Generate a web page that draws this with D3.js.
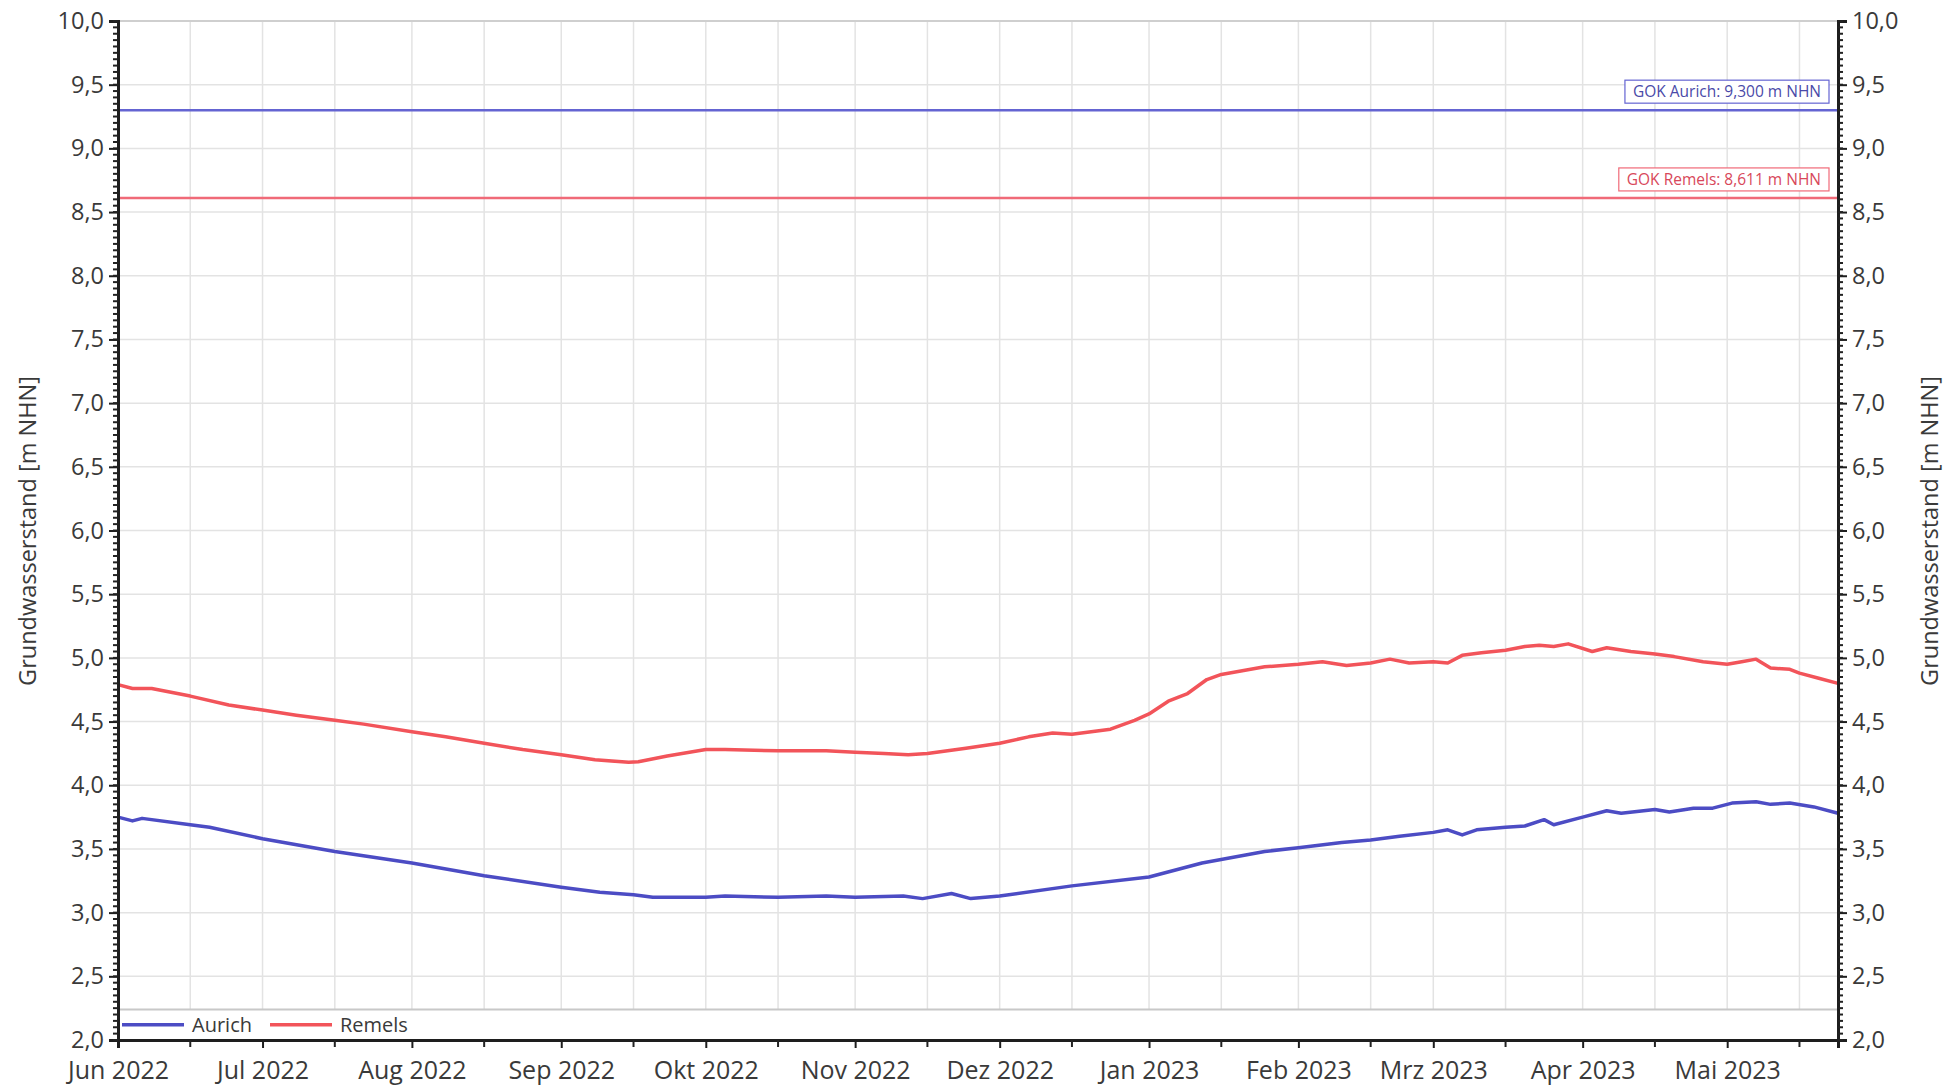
<!DOCTYPE html>
<html>
<head>
<meta charset="UTF-8">
<title>Grundwasserstand Aurich / Remels</title>
<style>
  body { margin: 0; background: #fff; }
  svg text { font-family: "Open Sans", sans-serif; fill: #3a3a3a; }
  .grid line { stroke: #e3e3e3; stroke-width: 1.5; }
</style>
</head>
<body>
<svg width="1946" height="1086"></svg>
<script src="https://d3js.org/d3.v7.min.js"></script>
<script>

var aurichDates = ["2022-06-01","2022-06-04","2022-06-06","2022-06-16","2022-06-20","2022-07-01","2022-07-16",
    "2022-08-01","2022-08-16","2022-09-01","2022-09-09","2022-09-16","2022-09-20","2022-10-01","2022-10-05",
    "2022-10-16","2022-10-26","2022-11-01","2022-11-11","2022-11-15","2022-11-21","2022-11-25","2022-12-01",
    "2022-12-16","2023-01-01","2023-01-12","2023-01-25","2023-02-01","2023-02-10","2023-02-16","2023-02-22",
    "2023-03-01","2023-03-04","2023-03-07","2023-03-10","2023-03-16","2023-03-20","2023-03-24","2023-03-26",
    "2023-04-01","2023-04-06","2023-04-09","2023-04-16","2023-04-19","2023-04-24","2023-04-28","2023-05-02",
    "2023-05-07","2023-05-10","2023-05-14","2023-05-19","2023-05-24"];
var aurichValues = [3.75,3.72,3.74,3.69,3.67,3.58,3.48,
    3.39,3.29,3.20,3.16,3.14,3.12,3.12,3.13,
    3.12,3.13,3.12,3.13,3.11,3.15,3.11,3.13,
    3.21,3.28,3.39,3.48,3.51,3.55,3.57,3.60,
    3.63,3.65,3.61,3.65,3.67,3.68,3.73,3.69,
    3.75,3.80,3.78,3.81,3.79,3.82,3.82,3.86,
    3.87,3.85,3.86,3.83,3.78];

var remelsDates = ["2022-06-01","2022-06-04","2022-06-08","2022-06-16","2022-06-24","2022-07-01","2022-07-08",
    "2022-07-16","2022-07-22","2022-08-01","2022-08-08","2022-08-16","2022-08-24","2022-09-01","2022-09-08",
    "2022-09-15","2022-09-17","2022-09-23","2022-10-01","2022-10-05","2022-10-16","2022-10-26","2022-11-01",
    "2022-11-07","2022-11-12","2022-11-16","2022-11-24","2022-12-01","2022-12-07","2022-12-12","2022-12-16",
    "2022-12-24","2022-12-29","2023-01-01","2023-01-05","2023-01-09","2023-01-13","2023-01-16","2023-01-25",
    "2023-02-01","2023-02-06","2023-02-11","2023-02-16","2023-02-20","2023-02-24","2023-03-01","2023-03-04",
    "2023-03-07","2023-03-11","2023-03-16","2023-03-20","2023-03-23","2023-03-26","2023-03-29","2023-04-03",
    "2023-04-06","2023-04-11","2023-04-16","2023-04-20","2023-04-26","2023-05-01","2023-05-04","2023-05-07",
    "2023-05-10","2023-05-14","2023-05-16","2023-05-20","2023-05-24"];
var remelsValues = [4.79,4.76,4.76,4.70,4.63,4.59,4.55,
    4.51,4.48,4.42,4.38,4.33,4.28,4.24,4.20,
    4.18,4.185,4.23,4.28,4.28,4.27,4.27,4.26,
    4.25,4.24,4.25,4.29,4.33,4.38,4.41,4.40,
    4.44,4.51,4.56,4.66,4.72,4.83,4.87,4.93,
    4.95,4.97,4.94,4.96,4.99,4.96,4.97,4.96,
    5.02,5.04,5.06,5.09,5.10,5.09,5.11,5.05,
    5.08,5.05,5.03,5.01,4.97,4.95,4.97,4.99,
    4.92,4.91,4.88,4.84,4.80];

var gokAurich = 9.300, gokRemels = 8.611;

var monthTicks = ["2022-06-01","2022-07-01","2022-08-01","2022-09-01","2022-10-01","2022-11-01","2022-12-01",
    "2023-01-01","2023-02-01","2023-03-01","2023-04-01","2023-05-01"];
var monthLabels = ["Jun 2022","Jul 2022","Aug 2022","Sep 2022","Okt 2022","Nov 2022","Dez 2022",
    "Jan 2023","Feb 2023","Mrz 2023","Apr 2023","Mai 2023"];
var yTicks = [2.0,2.5,3.0,3.5,4.0,4.5,5.0,5.5,6.0,6.5,7.0,7.5,8.0,8.5,9.0,9.5,10.0];

var startDate = "2022-06-01", endDate = "2023-05-24";

var parse = d3.timeParse("%Y-%m-%d");
var svg = d3.select("svg");
var plotL = 118, plotR = 1838, plotT = 21, plotB = 1040;

var x = d3.scaleTime().domain([parse(startDate), parse(endDate)]).range([plotL, plotR]);
var y = d3.scaleLinear().domain([2, 10]).range([plotB, plotT]);

var comma = function (v, p) { return d3.format("." + p + "f")(v).replace(".", ","); };

var majorX = monthTicks.map(parse);
var minorX = majorX.map(function (d) { return d3.timeDay.offset(d, 15); })
        .filter(function (d) { return d <= x.domain()[1]; });

// Gitter
var grid = svg.append("g").attr("class", "grid");
grid.selectAll(".vx").data(majorX.concat(minorX)).enter().append("line")
        .attr("x1", function (d) { return x(d); }).attr("x2", function (d) { return x(d); })
        .attr("y1", plotT).attr("y2", plotB);
grid.selectAll(".hy").data(yTicks).enter().append("line")
        .attr("x1", plotL).attr("x2", plotR)
        .attr("y1", function (d) { return y(d); }).attr("y2", function (d) { return y(d); });
grid.append("line").attr("x1", plotL).attr("x2", plotR).attr("y1", plotT).attr("y2", plotT)
        .style("stroke", "#cfcfcf").style("stroke-width", 2);

// GOK Linien
var gok = [
    {v: gokAurich, name: "GOK Aurich", color: "#6464d2", text: "#4a4aa8"},
    {v: gokRemels, name: "GOK Remels", color: "#f06a78", text: "#d8485a"}
];
gok.forEach(function (g) {
    svg.append("line").attr("x1", plotL).attr("x2", plotR)
            .attr("y1", y(g.v)).attr("y2", y(g.v))
            .style("stroke", g.color).style("stroke-width", 2.5);
    var lbl = svg.append("g");
    var t = lbl.append("text").attr("x", 0).attr("y", 0)
            .style("font-size", "15.5px").style("fill", g.text)
            .text(g.name + ": " + comma(g.v, 3) + " m NHN");
    var w = t.node().getComputedTextLength();
    var bx = plotR - 9 - w - 16, by = y(g.v) - 30;
    lbl.insert("rect", "text").attr("x", bx).attr("y", by).attr("width", w + 16).attr("height", 23)
            .style("fill", "#fff").style("stroke", g.color).style("stroke-width", 1.2);
    t.attr("x", bx + 8).attr("y", by + 17);
});

// Datenreihen
var line = d3.line()
        .x(function (d) { return x(d.date); })
        .y(function (d) { return y(d.value); });

function series(dates, values) {
    return dates.map(function (d, i) { return {date: parse(d), value: values[i]}; });
}

svg.append("path").datum(series(remelsDates, remelsValues)).attr("d", line)
        .style("fill", "none").style("stroke", "#f2545a").style("stroke-width", 3.5).style("stroke-linejoin", "round");
svg.append("path").datum(series(aurichDates, aurichValues)).attr("d", line)
        .style("fill", "none").style("stroke", "#4c4cc4").style("stroke-width", 3.5).style("stroke-linejoin", "round");

// Legende
var legY = y(2.24);
svg.append("rect").attr("x", plotL).attr("y", legY).attr("width", plotR - plotL).attr("height", plotB - legY)
        .style("fill", "#fff");
svg.append("line").attr("x1", plotL).attr("x2", plotR).attr("y1", legY).attr("y2", legY)
        .style("stroke", "#c8c8c8").style("stroke-width", 2);
var legMid = (legY + plotB) / 2;
var legend = [{name: "Aurich", color: "#4c4cc4", x: plotL + 4}, {name: "Remels", color: "#f2545a", x: plotL + 152}];
legend.forEach(function (l) {
    svg.append("line").attr("x1", l.x).attr("x2", l.x + 62).attr("y1", legMid).attr("y2", legMid)
            .style("stroke", l.color).style("stroke-width", 3.5);
    svg.append("text").attr("x", l.x + 70).attr("y", legMid).attr("dy", "0.35em")
            .style("font-size", "20px").text(l.name);
});

// Achsen
var xAxis = svg.append("g").attr("transform", "translate(0," + plotB + ")");
xAxis.call(d3.axisBottom(x).tickValues(majorX).tickSize(8).tickPadding(10)
        .tickFormat(function (d, i) { return monthLabels[i]; }));
xAxis.selectAll(".tick text").style("font-size", "25px").attr("dy", "0.85em");
xAxis.append("g").selectAll("line").data(minorX).enter().append("line")
        .attr("x1", function (d) { return x(d); }).attr("x2", function (d) { return x(d); })
        .attr("y1", 0).attr("y2", 7).style("stroke", "#222").style("stroke-width", 2);

var minorY = d3.range(40, 201).map(function (i) { return i / 20; });

function yAxis(axisFn, xpos, dir) {
    var g = svg.append("g").attr("transform", "translate(" + xpos + ",0)");
    g.call(axisFn(y).tickValues(yTicks).tickSize(9).tickPadding(5)
            .tickFormat(function (d) { return comma(d, 1); }));
    g.selectAll(".tick text").style("font-size", "23.5px");
    g.append("g").selectAll("line").data(minorY).enter().append("line")
            .attr("x1", 0).attr("x2", dir * 5)
            .attr("y1", function (d) { return y(d); }).attr("y2", function (d) { return y(d); })
            .style("stroke", "#222").style("stroke-width", 2);
    return g;
}
yAxis(d3.axisLeft, plotL, -1);
yAxis(d3.axisRight, plotR, 1);

svg.selectAll(".domain").style("stroke", "#1e1e1e").style("stroke-width", 3);
svg.selectAll(".tick line").style("stroke", "#1e1e1e").style("stroke-width", 2);

// Achsentitel
var title = "Grundwasserstand [m NHN]";
var titleY = 531;
svg.append("text").attr("transform", "translate(28," + titleY + ") rotate(-90)")
        .attr("text-anchor", "middle").attr("dy", "0.35em").style("font-size", "23.5px").text(title);
svg.append("text").attr("transform", "translate(1930," + titleY + ") rotate(-90)")
        .attr("text-anchor", "middle").attr("dy", "0.35em").style("font-size", "23.5px").text(title);

</script>
</body>
</html>
